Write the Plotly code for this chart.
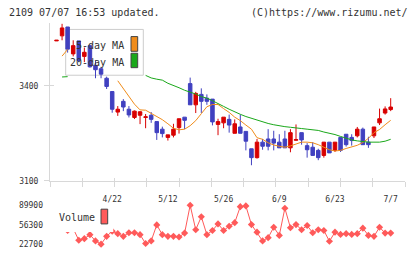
import numpy as np
import plotly.graph_objects as go

W, H = 420, 259

dates = ["4/8", "4/11", "4/12", "4/13", "4/14", "4/15", "4/18", "4/19", "4/20", "4/21",
         "4/22", "4/25", "4/26", "4/27", "4/28", "5/2", "5/6", "5/9", "5/10", "5/11",
         "5/12", "5/13", "5/16", "5/17", "5/18", "5/19", "5/20", "5/23", "5/24", "5/25",
         "5/26", "5/27", "5/30", "5/31", "6/1", "6/2", "6/3", "6/6", "6/7", "6/8",
         "6/9", "6/10", "6/13", "6/14", "6/15", "6/16", "6/17", "6/20", "6/21", "6/22",
         "6/23", "6/24", "6/27", "6/28", "6/29", "6/30", "7/1", "7/4", "7/5", "7/6",
         "7/7"]

opens = [3542, 3558, 3586, 3501, 3542, 3493, 3527, 3465, 3454, 3424,
         3382, 3317, 3351, 3326, 3300, 3307, 3300, 3307, 3287, 3263,
         3237, 3244, 3268, 3301, 3407, 3340, 3373, 3361, 3358, 3278,
         3283, 3294, 3250, 3270, 3256, 3201, 3173, 3222, 3232, 3232,
         3222, 3232, 3204, 3228, 3252, 3211, 3206, 3196, 3180, 3222,
         3196, 3237, 3247, 3237, 3242, 3263, 3222, 3242, 3283, 3314,
         3325]
highs = [3544, 3596, 3586, 3544, 3542, 3521, 3530, 3480, 3460, 3429,
         3382, 3336, 3358, 3336, 3322, 3320, 3311, 3317, 3287, 3271,
         3245, 3280, 3296, 3301, 3426, 3381, 3392, 3373, 3358, 3296,
         3301, 3309, 3294, 3309, 3256, 3201, 3232, 3232, 3263, 3258,
         3247, 3258, 3263, 3278, 3252, 3219, 3222, 3201, 3222, 3222,
         3222, 3237, 3247, 3247, 3270, 3268, 3239, 3270, 3328, 3335,
         3361]
lows = [3542, 3544, 3505, 3493, 3475, 3475, 3458, 3424, 3424, 3390,
        3315, 3305, 3320, 3300, 3295, 3279, 3266, 3283, 3229, 3237,
        3227, 3237, 3249, 3263, 3340, 3314, 3314, 3340, 3275, 3244,
        3266, 3252, 3250, 3250, 3196, 3149, 3170, 3198, 3196, 3196,
        3204, 3204, 3190, 3227, 3214, 3173, 3180, 3165, 3173, 3188,
        3191, 3191, 3208, 3211, 3237, 3214, 3204, 3235, 3276, 3309,
        3320]
closes = [3544, 3583, 3516, 3527, 3480, 3506, 3460, 3451, 3437, 3398,
          3326, 3326, 3333, 3308, 3320, 3318, 3302, 3294, 3252, 3249,
          3245, 3263, 3296, 3291, 3340, 3376, 3351, 3351, 3286, 3287,
          3301, 3276, 3280, 3250, 3225, 3173, 3222, 3209, 3209, 3219,
          3204, 3204, 3252, 3230, 3229, 3198, 3180, 3173, 3222, 3188,
          3222, 3196, 3214, 3227, 3263, 3214, 3214, 3270, 3296, 3327,
          3333]

ma5 = [None, 3494, 3515, None, None, None, None, None, None, None,
       None, 3416, 3392, 3367, 3342, 3324, 3323, 3313, 3303, 3293,
       3280, 3266, 3261, 3263, 3274, 3290, 3312, 3334, 3341, 3341,
       3328, 3316, 3301, 3290, 3276, 3263, 3236, 3231, 3220, 3213,
       3209, 3206, 3210, 3217, 3222, 3222, 3220, 3214, 3207, 3198,
       3194, 3196, 3202, 3207, 3212, 3221, 3234, 3252, 3262, 3277,
       3291]
ma20 = [None, 3428, 3429, None, None, None, None, None, None, None,
        None, None, None, None, None, None, 3433, 3425, 3421, 3418,
        3408, 3402, 3394, 3386, 3381, 3374, 3366, 3361, 3353, 3343,
        3335, 3326, 3317, 3310, 3303, 3297, 3293, 3287, 3281, 3277,
        3273, 3271, 3269, 3266, 3265, 3263, 3261, 3259, 3254, 3251,
        3246, 3240, 3234, 3229, 3226, 3223, 3222, 3222, 3222, 3225,
        3231]
volume = [None, None, 46400, 49800, 29500, 32300, 39100, 28300, 22700, 36200,
          45200, 40800, 36200, 42500, 42500, 39100, 23900, 28300, 56000, 39100,
          36200, 36200, 35100, 41800, 89900, 47600, 70100, 39100, 46400, 57700,
          46400, 53700, 59900, 87500, 88700, 56600, 43500, 28300, 34000, 52000,
          37900, 84800, 51000, 56600, 47600, 54900, 42500, 47600, 46400, 27800,
          43500, 39600, 40800, 39600, 40800, 50300, 37900, 36200, 52000, 41800,
          41800]

label_dates = ["4/22", "5/12", "5/26", "6/9", "6/23", "7/7"]
price_ticks = [3100, 3400]
volume_ticks = [22700, 56300, 89900]

RED = "#d80000"
BLUE = "#4040c0"
ORANGE = "#f08c1a"
GREEN = "#1aa81a"
VCOL = "#ff5a5a"
AXC = "#d8d8d8"
TXT = "#333333"
MONO = "DejaVu Sans Mono"


def px(x):
    return x / W


def py(y):
    return 1 - y / H


idx = list(range(len(dates)))
x_range = [-1.167, 62.57]
x_dom = [px(50), px(405)]
y_dom = [py(184.3), py(23)]
v_dom = [py(253), py(205)]
p_range = [3100, 3600]
v_range = [15929, 97179]
grid_ticks = list(np.linspace(x_range[0], x_range[1], 12))

fig = go.Figure()
fig.add_trace(go.Scatter(x=idx, y=ma5, mode="lines", line=dict(color=ORANGE, width=1),
                         showlegend=False, hoverinfo="skip"))
fig.add_trace(go.Scatter(x=idx, y=ma20, mode="lines", line=dict(color=GREEN, width=1),
                         showlegend=False, hoverinfo="skip"))
fig.add_trace(go.Candlestick(
    x=idx, open=opens, high=highs, low=lows, close=closes,
    increasing=dict(line=dict(color=RED, width=1), fillcolor=RED),
    decreasing=dict(line=dict(color=BLUE, width=1), fillcolor=BLUE),
    whiskerwidth=0, showlegend=False, hoverinfo="skip"))
fig.add_trace(go.Scatter(x=idx, y=volume, xaxis="x2", yaxis="y2", mode="lines+markers",
                         line=dict(color=VCOL, width=1),
                         marker=dict(symbol="diamond", size=5.5, color=VCOL),
                         showlegend=False, hoverinfo="skip"))
# empty traces carrying the crossing tick marks
fig.add_trace(go.Scatter(x=[], y=[], xaxis="x3", yaxis="y", showlegend=False))
fig.add_trace(go.Scatter(x=[], y=[], xaxis="x4", yaxis="y", showlegend=False))
fig.add_trace(go.Scatter(x=[], y=[], xaxis="x", yaxis="y3", showlegend=False))

tf = dict(family=MONO, size=8, color=TXT)
fig.update_layout(
    width=W, height=H, margin=dict(l=0, r=0, t=0, b=0), autosize=False,
    paper_bgcolor="white", plot_bgcolor="rgba(0,0,0,0)", boxgap=0.1,
    xaxis=dict(domain=x_dom, range=x_range, anchor="y", rangeslider=dict(visible=False),
               tickmode="array", tickvals=[dates.index(d) for d in label_dates],
               ticktext=label_dates, ticks="", showline=True, linecolor=AXC, linewidth=1,
               showgrid=False, zeroline=False, tickfont=tf, ticklabelstandoff=11),
    yaxis=dict(domain=y_dom, range=p_range, anchor="x", tickmode="array",
               tickvals=price_ticks, ticktext=[str(v) for v in price_ticks],
               ticks="outside", ticklen=5, tickcolor=AXC,
               showline=True, linecolor=AXC, showgrid=False, zeroline=False,
               tickfont=tf, ticklabelstandoff=4),
    xaxis2=dict(domain=x_dom, range=x_range, anchor="y2", visible=False),
    yaxis2=dict(domain=v_dom, range=v_range, anchor="x2", tickmode="array",
                tickvals=volume_ticks, ticktext=[str(v) for v in volume_ticks],
                ticks="", showline=False, showgrid=False,
                zeroline=False, tickfont=tf, ticklabelstandoff=6),
    xaxis3=dict(overlaying="x", anchor="y", range=x_range, tickmode="array",
                tickvals=grid_ticks, ticks="outside", ticklen=5, tickcolor=AXC,
                showticklabels=False, showline=False, showgrid=False, zeroline=False),
    xaxis4=dict(overlaying="x", anchor="y", range=x_range, tickmode="array",
                tickvals=grid_ticks, ticks="inside", ticklen=3, tickcolor=AXC,
                showticklabels=False, showline=False, showgrid=False, zeroline=False),
    yaxis3=dict(overlaying="y", anchor="x", side="left", range=p_range, tickmode="array",
                tickvals=price_ticks, ticks="inside", ticklen=4, tickcolor=AXC,
                showticklabels=False, showline=False, showgrid=False, zeroline=False),
)

shapes = [
    # MA legend box (behind candles)
    dict(type="rect", xref="paper", yref="paper", x0=px(65.7), x1=px(143.3),
         y0=py(76.7), y1=py(30), line=dict(color="#cccccc", width=1),
         fillcolor="white", layer="below"),
    dict(type="rect", xref="paper", yref="paper", x0=px(131), x1=px(137.7),
         y0=py(52.3), y1=py(37.3), line=dict(color="#444444", width=1),
         fillcolor=ORANGE, layer="above"),
    dict(type="rect", xref="paper", yref="paper", x0=px(131), x1=px(137.7),
         y0=py(69), y1=py(54.3), line=dict(color="#444444", width=1),
         fillcolor=GREEN, layer="above"),
    # Volume legend box
    dict(type="rect", xref="paper", yref="paper", x0=px(54), x1=px(113.3),
         y0=py(236.5), y1=py(209), line=dict(width=0), fillcolor="white", layer="above"),
    dict(type="rect", xref="paper", yref="paper", x0=px(101), x1=px(107.7),
         y0=py(228.3), y1=py(213.3), line=dict(color="#444444", width=1),
         fillcolor=VCOL, layer="above"),
]
fig.update_layout(shapes=shapes)

ann = [
    dict(text="2109 07/07 16:53 updated.", x=px(8), y=py(12.5), xanchor="left",
         yanchor="middle", size=10),
    dict(text="(C)https://www.rizumu.net/", x=px(408.5), y=py(12.5), xanchor="right",
         yanchor="middle", size=10),
    dict(text="5-day MA", x=px(124.5), y=py(46), xanchor="right", yanchor="middle", size=10),
    dict(text="20-day MA", x=px(124.5), y=py(63.3), xanchor="right", yanchor="middle", size=10),
    dict(text="Volume", x=px(58), y=py(221.5), xanchor="left", yanchor="middle", size=10),
]
fig.update_layout(annotations=[
    dict(text=a["text"], x=a["x"], y=a["y"], xref="paper", yref="paper",
         xanchor=a["xanchor"], yanchor=a["yanchor"], showarrow=False,
         font=dict(family=MONO, size=a["size"], color=TXT), borderpad=0)
    for a in ann])

fig.write_html("out.html")
